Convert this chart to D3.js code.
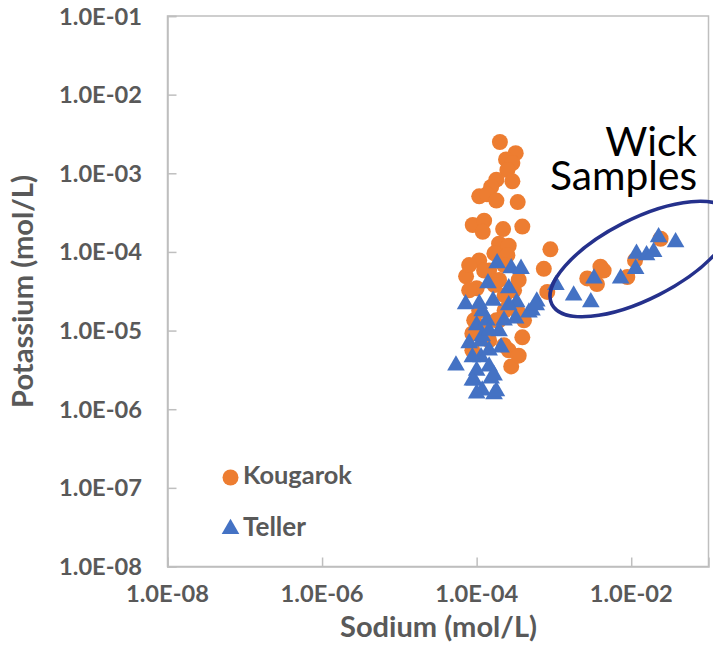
<!DOCTYPE html>
<html>
<head>
    <meta charset="utf-8">
    <script src="https://d3js.org/d3.v7.min.js"></script>
    <style>
        body { margin: 0; background: #fff; }
        text { font-family: Lato, "Open Sans", sans-serif; }
    </style>
</head>
<body>
    <svg id="chart" width="713" height="647"></svg>

    <script>
        // Kougarok samples (mol/L)
        const kougarokNa = [2.0e-4, 3.2e-4, 2.4e-4, 2.9e-4, 2.5e-4, 1.8e-4, 2.9e-4, 1.54e-4, 1.08e-4, 1.36e-4,
            1.8e-4, 3.4e-4, 8.9e-5, 1.25e-4, 1.2e-4, 2.2e-4, 3.9e-4, 1.95e-4, 2.6e-4, 9.0e-4,
            1.08e-4, 1.7e-4, 2.5e-4, 7.4e-4, 8.2e-4, 7.3e-5, 1.0e-4, 3.5e-4, 3.9e-4, 2.8e-4,
            9.3e-5, 8.8e-5, 2.6e-4, 8.8e-5, 1.45e-4, 2.3e-4, 1.8e-4, 1.45e-4, 2.3e-4, 1.95e-4,
            3.05e-4, 4.1e-4, 8.0e-5, 1.25e-4, 2.26e-4, 3.5e-4, 8.0e-5, 1.7e-4, 1.08e-4, 1.95e-4,
            1.25e-4, 2.26e-4, 3.5e-4,
            4.0e-3, 2.7e-3, 3.6e-3, 8.9e-3, 1.12e-2, 2.4e-2, 4.4e-3];
        const kougarokK = [2.5e-3, 1.8e-3, 1.5e-3, 1.35e-3, 1.1e-3, 8.3e-4, 7.9e-4, 6.7e-4, 5.1e-4, 5.4e-4,
            4.5e-4, 4.3e-4, 2.2e-4, 2.5e-4, 1.8e-4, 1.95e-4, 2.1e-4, 1.27e-4, 1.2e-4, 1.08e-4,
            7.8e-5, 9.6e-5, 9.1e-5, 6.1e-5, 3.1e-5, 4.9e-5, 3.45e-5, 1.66e-5, 8.2e-6, 3.5e-6,
            1.35e-5, 5.6e-6, 5.6e-6, 9.2e-6, 5.8e-5, 2.8e-5, 1.35e-5, 7.5e-6, 1.8e-5, 4.4e-5,
            3.25e-5, 1.35e-5, 6.8e-5, 5.8e-5, 6.8e-5, 4.4e-5, 3.25e-5, 3.8e-5, 1.8e-5, 1.35e-5,
            1.0e-5, 6.5e-6, 4.8e-6,
            6.5e-5, 4.6e-5, 3.9e-5, 4.8e-5, 7.8e-5, 1.47e-4, 5.8e-5];

        // Teller samples (mol/L)
        const tellerNa = [1.84e-4, 2.8e-4, 3.75e-4, 1.4e-4, 2.6e-4, 7.2e-5, 1.18e-4, 1.63e-4, 3.3e-4, 6.0e-4,
            5.2e-4, 3.2e-4, 1.95e-4, 8.0e-5, 1.14e-4, 2.07e-4, 5.4e-5, 1.14e-4, 1.45e-4, 9.3e-5,
            1.54e-4, 1.18e-4, 1.68e-4, 1.0e-4, 1.0e-4, 8.8e-5, 1.68e-4, 8.8e-5, 1.0e-4, 1.18e-4,
            4.75e-4, 1.08e-4, 1.36e-4, 1.45e-4, 2.26e-4, 1.45e-4, 2.6e-4, 1.8e-4,
            1.06e-3, 1.8e-3, 3.0e-3, 3.3e-3, 7.3e-3, 1.14e-2, 1.17e-2, 1.58e-2, 1.95e-2, 2.26e-2,
            3.75e-2, 5.9e-4];
        const tellerK = [7.2e-5, 6.2e-5, 6.1e-5, 4.0e-5, 3.45e-5, 2.16e-5, 1.76e-5, 2.4e-5, 2.3e-5, 2.35e-5,
            1.8e-5, 1.43e-5, 9.8e-6, 6.9e-6, 7.3e-6, 6.1e-6, 3.6e-6, 4.6e-6, 3.5e-6, 2.33e-6,
            2.47e-6, 1.73e-6, 1.55e-6, 3.1e-6, 1.17e-5, 4.6e-6, 2.7e-6, 2.33e-6, 1.59e-6, 8.5e-6,
            1.7e-5, 2.2e-5, 1.35e-5, 5.6e-6, 1.35e-5, 1.0e-5, 2.1e-5, 1.7e-6,
            3.8e-5, 2.8e-5, 2.3e-5, 4.6e-5, 4.6e-5, 6.1e-5, 9.5e-5, 9.1e-5, 1.0e-4, 1.54e-4,
            1.33e-4, 2.1e-5];

        const xTicks = [1e-8, 1e-6, 1e-4, 1e-2];
        const yTicks = [1e-1, 1e-2, 1e-3, 1e-4, 1e-5, 1e-6, 1e-7, 1e-8];
        const seriesNames = ["Kougarok", "Teller"];

        const svg = d3.select("#chart");
        const grey = "#595959", orange = "#ED7D31", blue = "#4472C4";

        const x = d3.scaleLog().domain([1e-8, 1e-1]).range([167.5, 708.5]);
        const y = d3.scaleLog().domain([1e-8, 1e-1]).range([566.5, 16]);

        // shrink or grow a text so it takes the given width
        function fit(sel, w) {
            const fs = parseFloat(sel.attr("font-size"));
            const len = sel.node().getComputedTextLength();
            sel.attr("font-size", fs * w / len);
            return fs * w / len;
        }

        // plot frame
        svg.append("rect")
            .attr("x", x.range()[0]).attr("y", y.range()[1])
            .attr("width", x.range()[1] - x.range()[0])
            .attr("height", y.range()[0] - y.range()[1])
            .attr("fill", "none").attr("stroke", "#BFBFBF").attr("stroke-width", 1.5);

        // axes, ticks inside
        const gx = svg.append("g").attr("transform", `translate(0,${y.range()[0]})`)
            .call(d3.axisBottom(x).tickValues(xTicks).tickSize(-9).tickFormat(""));
        const gy = svg.append("g").attr("transform", `translate(${x.range()[0]},0)`)
            .call(d3.axisLeft(y).tickValues(yTicks).tickSize(-9).tickFormat(""));
        [gx, gy].forEach(g => {
            g.select(".domain").attr("stroke", "#BFBFBF").attr("stroke-width", 1.5);
            g.selectAll(".tick line").attr("stroke", "#BFBFBF").attr("stroke-width", 1.5);
        });

        const fmt = v => "1.0E-" + String(Math.round(-Math.log10(v))).padStart(2, "0");

        // tick labels
        const probe = svg.append("text").attr("font-size", 20).attr("font-weight", 700).text("1.0E-04");
        const tickFs = fit(probe, 83);
        probe.remove();

        svg.append("g").selectAll("text").data(yTicks).join("text")
            .attr("x", 142).attr("y", d => y(d) + tickFs * 0.36)
            .attr("text-anchor", "end")
            .attr("font-size", tickFs).attr("font-weight", 700).attr("fill", grey)
            .text(fmt);

        svg.append("g").selectAll("text").data(xTicks).join("text")
            .attr("x", d => x(d)).attr("y", 602)
            .attr("text-anchor", "middle")
            .attr("font-size", tickFs).attr("font-weight", 700).attr("fill", grey)
            .text(fmt);

        // axis titles
        const xt = svg.append("text")
            .attr("x", 438.5).attr("y", 637)
            .attr("text-anchor", "middle")
            .attr("font-size", 22).attr("font-weight", 700).attr("fill", grey)
            .text("Sodium (mol/L)");
        fit(xt, 197);

        const yt = svg.append("text")
            .attr("transform", "translate(33,291.5) rotate(-90)")
            .attr("text-anchor", "middle")
            .attr("font-size", 22).attr("font-weight", 700).attr("fill", grey)
            .text("Potassium (mol/L)");
        fit(yt, 233);

        // points
        const kougarok = kougarokNa.map((d, i) => ({na: d, k: kougarokK[i]}));
        const teller = tellerNa.map((d, i) => ({na: d, k: tellerK[i]}));

        svg.append("g").selectAll("circle").data(kougarok).join("circle")
            .attr("cx", d => x(d.na)).attr("cy", d => y(d.k))
            .attr("r", 8).attr("fill", orange);

        const tri = d3.symbol().type(d3.symbolTriangle).size(135);
        svg.append("g").selectAll("path").data(teller).join("path")
            .attr("transform", d => `translate(${x(d.na)},${y(d.k)})`)
            .attr("d", tri).attr("fill", blue);

        // legend
        const legend = svg.append("g");
        legend.append("circle").attr("cx", 230.5).attr("cy", 477.5).attr("r", 8).attr("fill", orange);
        legend.append("path").attr("transform", "translate(230.5,529)").attr("d", tri).attr("fill", blue);
        const lk = legend.append("text").attr("x", 243).attr("y", 484)
            .attr("font-size", 20).attr("font-weight", 700).attr("fill", grey).text(seriesNames[0]);
        fit(lk, 109);
        const lt = legend.append("text").attr("x", 243).attr("y", 536)
            .attr("font-size", 20).attr("font-weight", 700).attr("fill", grey).text(seriesNames[1]);
        fit(lt, 63);

        // Wick samples annotation
        svg.append("ellipse")
            .attr("transform", "translate(641,259) rotate(-27)")
            .attr("rx", 100).attr("ry", 40)
            .attr("fill", "none").attr("stroke", "#25318C").attr("stroke-width", 3.5);

        const w1 = svg.append("text").attr("x", 697).attr("y", 156).attr("text-anchor", "end")
            .attr("font-size", 40).attr("fill", "#000").text("Wick");
        const w2 = svg.append("text").attr("x", 697).attr("y", 190).attr("text-anchor", "end")
            .attr("font-size", 40).attr("fill", "#000").text("Samples");
        const wfs = fit(w2, 147);
        w1.attr("font-size", wfs);
    </script>
</body>
</html>
